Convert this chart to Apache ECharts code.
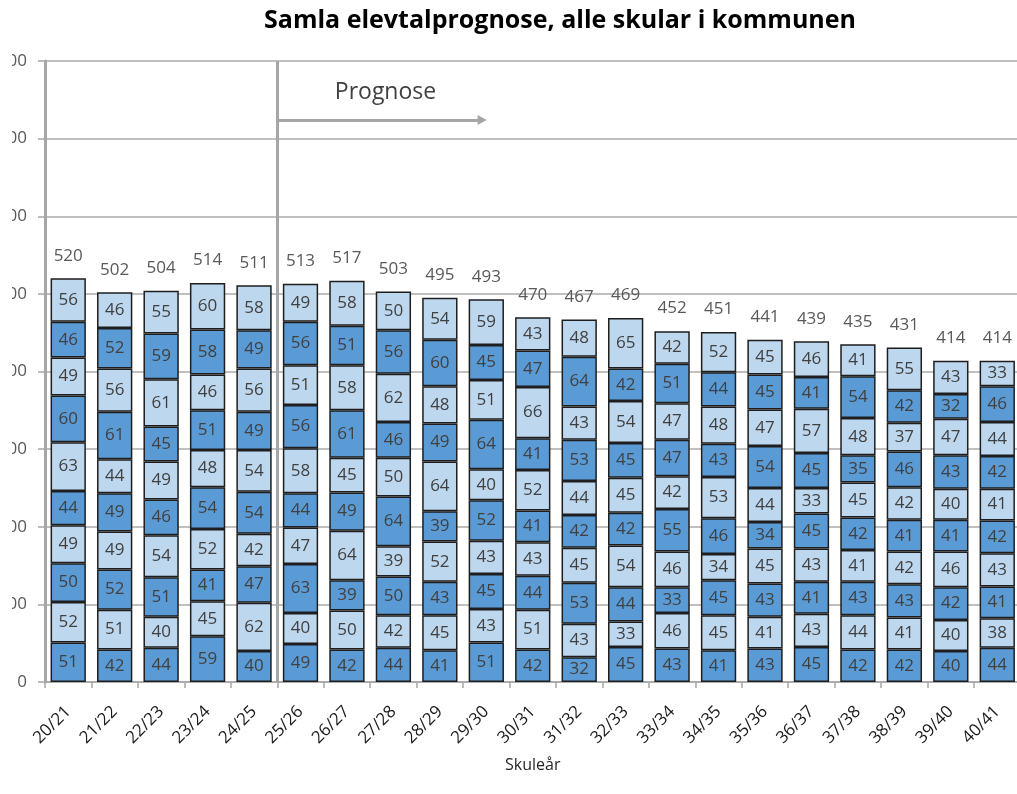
<!DOCTYPE html>
<html>
<head>
<meta charset="utf-8">
<script src="https://cdn.jsdelivr.net/npm/echarts@6/dist/echarts.min.js"></script>
<style>
html,body{margin:0;padding:0;background:#fff;overflow:hidden;}
#wrap{position:absolute;left:12px;top:0;width:1005px;height:794px;overflow:hidden;}
#chart{width:1005px;height:794px;}
</style>
</head>
<body>
<div id="wrap"><div id="chart"></div></div>
<script>
const categories = ['20/21','21/22','22/23','23/24','24/25','25/26','26/27','27/28','28/29','29/30','30/31','31/32','32/33','33/34','34/35','35/36','36/37','37/38','38/39','39/40','40/41'];
const grade1  = [51,42,44,59,40,49,42,44,41,51,42,32,45,43,41,43,45,42,42,40,44];
const grade2  = [52,51,40,45,62,40,50,42,45,43,51,43,33,46,45,41,43,44,41,40,38];
const grade3  = [50,52,51,41,47,63,39,50,43,45,44,53,44,33,45,43,41,43,43,42,41];
const grade4  = [49,49,54,52,42,47,64,39,52,43,43,45,54,46,34,45,43,41,42,46,43];
const grade5  = [44,49,46,54,54,44,49,64,39,52,41,42,42,55,46,34,45,42,41,41,42];
const grade6  = [63,44,49,48,54,58,45,50,64,40,52,44,45,42,53,44,33,45,42,40,41];
const grade7  = [60,61,45,51,49,56,61,46,49,64,41,53,45,47,43,54,45,35,46,43,42];
const grade8  = [49,56,61,46,56,51,58,62,48,51,66,43,54,47,48,47,57,48,37,47,44];
const grade9  = [46,52,59,58,49,56,51,56,60,45,47,64,42,51,44,45,41,54,42,32,46];
const grade10 = [56,46,55,60,58,49,58,50,54,59,43,48,65,42,52,45,46,41,55,43,33];
const yTicks = [0,100,200,300,400,500,600,700,800];
const prognoseStart = 5;      // boundary between 24/25 and 25/26 (category index units)
const arrowEnd = 9.41;
const arrowLevel = 724;
const prognoseTextPos = [7.33, 760];

const grades = [grade1,grade2,grade3,grade4,grade5,grade6,grade7,grade8,grade9,grade10];
const totals = categories.map((c,i)=>grades.reduce((s,g)=>s+g[i],0));

const DARK = '#5B9BD5', LIGHT = '#BDD7EE';
const FONT = '"Open Sans", sans-serif';

const series = grades.map((g,k)=>({
  name: 'Trinn ' + (k+1),
  type: 'bar',
  stack: 'all',
  xAxisIndex: 0,
  barCategoryGap: '24%',
  data: g,
  itemStyle: { color: k%2===0 ? DARK : LIGHT, borderColor: '#1e1e1e', borderWidth: 1.5 },
  label: { show: true, position: 'inside', color: '#404040', fontSize: 17, fontFamily: FONT },
  emphasis: { disabled: true }
}));
series.push({
  name: 'Sum',
  type: 'bar',
  stack: 'all',
  data: totals.map(()=>0),
  itemStyle: { color: 'rgba(0,0,0,0)', borderWidth: 0 },
  label: { show: true, position: 'top', distance: 14, color: '#595959', fontSize: 17, fontFamily: FONT,
           formatter: p => String(totals[p.dataIndex]) },
  emphasis: { disabled: true }
});
series.push({
  type: 'scatter',
  xAxisIndex: 1,
  data: [],
  silent: true,
  markLine: {
    silent: true,
    animation: false,
    symbol: ['none','none'],
    label: { show: false },
    lineStyle: { color: '#A6A6A6', width: 3, type: 'solid' },
    data: [
      { xAxis: prognoseStart },
      [ { coord: [prognoseStart, arrowLevel], symbol: 'none' },
        { coord: [arrowEnd, arrowLevel], symbol: 'triangle', symbolSize: [10, 9], symbolRotate: -90 } ]
    ]
  },
  markPoint: {
    silent: true,
    animation: false,
    symbol: 'circle',
    symbolSize: 0,
    label: { show: true, position: 'inside', formatter: 'Prognose', color: '#404040', fontSize: 23, fontFamily: FONT },
    data: [ { coord: prognoseTextPos } ]
  }
});

const chart = echarts.init(document.getElementById('chart'));
chart.setOption({
  animation: false,
  backgroundColor: '#fff',
  title: {
    text: 'Samla elevtalprognose, alle skular i kommunen',
    left: 543, top: 3, textAlign: 'center',
    textStyle: { fontFamily: FONT, fontWeight: 'bold', fontSize: 25, color: '#000' }
  },
  grid: { left: 33, top: 61, width: 975.5, height: 621, containLabel: false, outerBoundsMode: 'none' },
  xAxis: [{
    type: 'category',
    data: categories,
    name: 'Skuleår',
    nameLocation: 'middle',
    nameGap: 75,
    nameTextStyle: { fontFamily: FONT, fontSize: 16, color: '#262626' },
    axisLine: { lineStyle: { color: '#A6A6A6', width: 1.5 } },
    axisTick: { show: true, alignWithLabel: false, length: 6, lineStyle: { color: '#A6A6A6', width: 1.5 } },
    axisLabel: { rotate: 45, margin: 27, interval: 0, fontFamily: FONT, fontSize: 17, color: '#1a1a1a' }
  }, {
    type: 'value', min: 0, max: categories.length, show: false
  }],
  yAxis: {
    type: 'value',
    min: yTicks[0], max: yTicks[yTicks.length-1], interval: 100,
    axisLine: { show: true, lineStyle: { color: '#A6A6A6', width: 3 } },
    axisTick: { show: true, length: 7, lineStyle: { color: '#A6A6A6', width: 1.5 } },
    axisLabel: { margin: 18, fontFamily: FONT, fontSize: 17, color: '#595959' },
    splitLine: { lineStyle: { color: '#ABABAB', width: 1.5 } }
  },
  series: series
});
</script>
</body>
</html>
